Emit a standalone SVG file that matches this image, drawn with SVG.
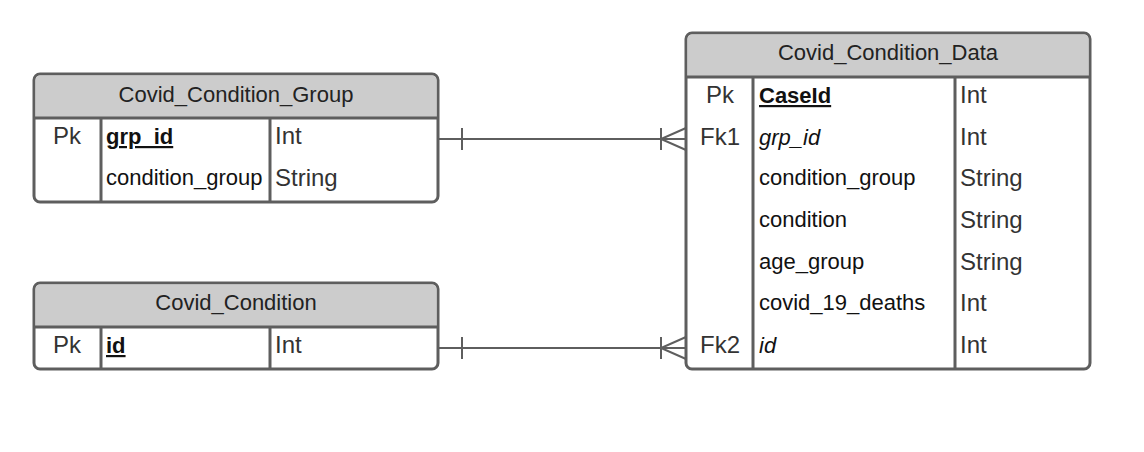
<svg xmlns="http://www.w3.org/2000/svg" width="1144" height="452" viewBox="0 0 1144 452">
  <style>
    .frame { fill: #ffffff; stroke: #5e5e5e; stroke-width: 3; }
    .head { fill: #cccccc; }
    .rule { stroke: #5e5e5e; stroke-width: 3; fill: none; }
    .link { stroke: #5e5e5e; stroke-width: 2; fill: none; }
    text { font-family: "Liberation Sans", Arial, sans-serif; font-size: 22px; fill: #333333; }
    .title { text-anchor: middle; fill: #222222; }
    .key { text-anchor: middle; font-size: 24px; }
    .type { font-size: 24px; }
    .pk { font-weight: bold; text-decoration: underline; fill: #111111; }
    .fk { font-style: italic; fill: #111111; }
    .name { fill: #111111; }
  </style>

  <!-- Covid_Condition_Group -->
  <g id="covid_condition_group">
    <rect class="frame" x="34" y="74" width="404" height="128" rx="6"/>
    <path class="head" d="M40,75.5 H432 A4.5,4.5 0 0 1 436.5,80 V118 H35.5 V80 A4.5,4.5 0 0 1 40,75.5 Z"/>
    <line class="rule" x1="34" y1="118" x2="438" y2="118"/>
    <line class="rule" x1="101" y1="118" x2="101" y2="202"/>
    <line class="rule" x1="270" y1="118" x2="270" y2="202"/>
    <text class="title" x="236" y="102">Covid_Condition_Group</text>
    <text class="key" x="67" y="144">Pk</text>
    <text class="pk" x="106" y="144">grp_id</text>
    <text class="type" x="275" y="144">Int</text>
    <text class="name" x="106" y="185">condition_group</text>
    <text class="type" x="275" y="186">String</text>
  </g>

  <!-- Covid_Condition -->
  <g id="covid_condition">
    <rect class="frame" x="34" y="283" width="404" height="86" rx="6"/>
    <path class="head" d="M40,284.5 H432 A4.5,4.5 0 0 1 436.5,289 V327 H35.5 V289 A4.5,4.5 0 0 1 40,284.5 Z"/>
    <line class="rule" x1="34" y1="327" x2="438" y2="327"/>
    <line class="rule" x1="101" y1="327" x2="101" y2="369"/>
    <line class="rule" x1="270" y1="327" x2="270" y2="369"/>
    <text class="title" x="236" y="310">Covid_Condition</text>
    <text class="key" x="67" y="353">Pk</text>
    <text class="pk" x="106" y="353">id</text>
    <text class="type" x="275" y="353">Int</text>
  </g>

  <!-- Covid_Condition_Data -->
  <g id="covid_condition_data">
    <rect class="frame" x="686" y="33" width="404" height="336" rx="6"/>
    <path class="head" d="M692,34.5 H1084 A4.5,4.5 0 0 1 1088.5,39 V77 H687.5 V39 A4.5,4.5 0 0 1 692,34.5 Z"/>
    <line class="rule" x1="686" y1="77" x2="1090" y2="77"/>
    <line class="rule" x1="753" y1="77" x2="753" y2="369"/>
    <line class="rule" x1="955" y1="77" x2="955" y2="369"/>
    <text class="title" x="888" y="60">Covid_Condition_Data</text>
    <text class="key" x="720" y="103">Pk</text>
    <text class="pk" x="759" y="103">CaseId</text>
    <text class="type" x="960" y="103">Int</text>
    <text class="key" x="720" y="145">Fk1</text>
    <text class="fk" x="759" y="145">grp_id</text>
    <text class="type" x="960" y="145">Int</text>
    <text class="name" x="759" y="185">condition_group</text>
    <text class="type" x="960" y="186">String</text>
    <text class="name" x="759" y="227">condition</text>
    <text class="type" x="960" y="228">String</text>
    <text class="name" x="759" y="269">age_group</text>
    <text class="type" x="960" y="270">String</text>
    <text class="name" x="759" y="310">covid_19_deaths</text>
    <text class="type" x="960" y="311">Int</text>
    <text class="key" x="720" y="353">Fk2</text>
    <text class="fk" x="759" y="353">id</text>
    <text class="type" x="960" y="353">Int</text>
  </g>

  <!-- relationships: one (bar) to many (crow's foot) -->
  <g id="connectors">
    <g id="group_to_data">
      <line class="link" x1="438" y1="139" x2="686" y2="139"/>
      <line class="link" x1="462" y1="128" x2="462" y2="150"/>
      <line class="link" x1="661" y1="128" x2="661" y2="150"/>
      <path class="link" d="M686,128 L661,139 L686,150"/>
    </g>
    <g id="condition_to_data">
      <line class="link" x1="438" y1="348" x2="686" y2="348"/>
      <line class="link" x1="462" y1="337" x2="462" y2="359"/>
      <line class="link" x1="661" y1="337" x2="661" y2="359"/>
      <path class="link" d="M686,337 L661,348 L686,359"/>
    </g>
  </g>
</svg>
